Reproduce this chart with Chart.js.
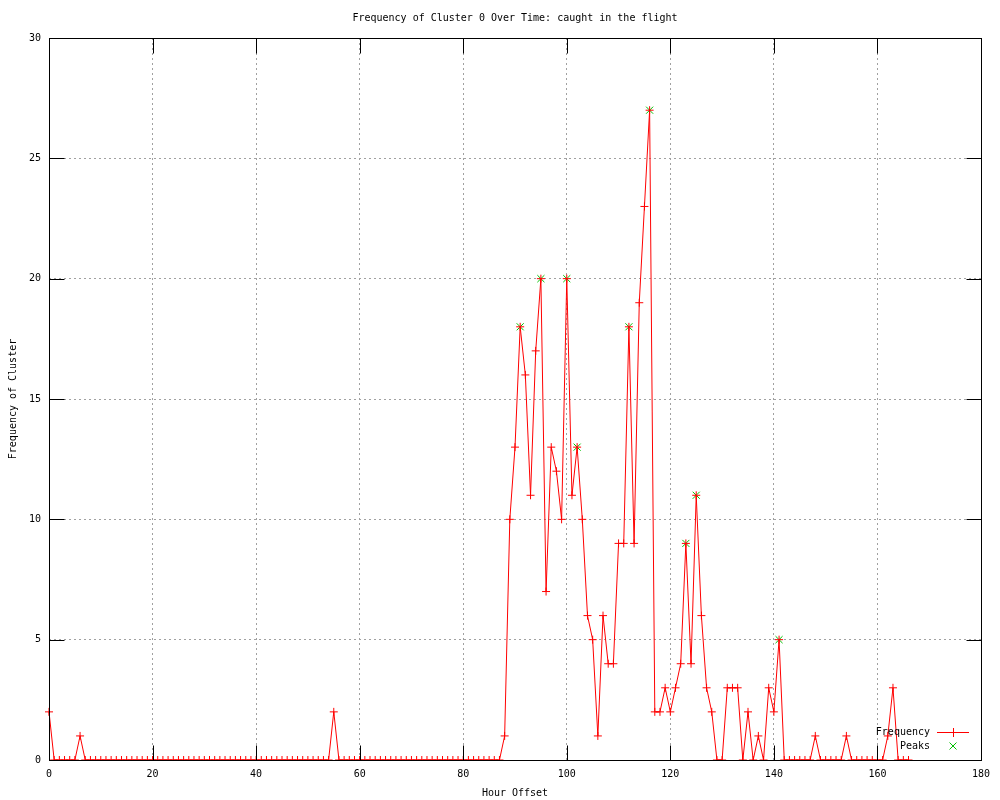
<!DOCTYPE html>
<html>
<head>
<meta charset="utf-8">
<title>Frequency of Cluster 0 Over Time</title>
<script src="https://cdn.jsdelivr.net/npm/chart.js@4.4.0/dist/chart.umd.min.js"></script>
<style>
  html, body { margin: 0; padding: 0; background: #fff; }
</style>
</head>
<body>
<canvas id="clusterChart" width="1000" height="800"></canvas>
<script>
// cluster counts per hour offset, hour 0 .. 166
const frequency = [
  2, 0, 0, 0, 0, 0, 1, 0, 0, 0,
  0, 0, 0, 0, 0, 0, 0, 0, 0, 0,
  0, 0, 0, 0, 0, 0, 0, 0, 0, 0,
  0, 0, 0, 0, 0, 0, 0, 0, 0, 0,
  0, 0, 0, 0, 0, 0, 0, 0, 0, 0,
  0, 0, 0, 0, 0, 2, 0, 0, 0, 0,
  0, 0, 0, 0, 0, 0, 0, 0, 0, 0,
  0, 0, 0, 0, 0, 0, 0, 0, 0, 0,
  0, 0, 0, 0, 0, 0, 0, 0, 1, 10,
  13, 18, 16, 11, 17, 20, 7, 13, 12, 10,
  20, 11, 13, 10, 6, 5, 1, 6, 4, 4,
  9, 9, 18, 9, 19, 23, 27, 2, 2, 3,
  2, 3, 4, 9, 4, 11, 6, 3, 2, 0,
  0, 3, 3, 3, 0, 2, 0, 1, 0, 3,
  2, 5, 0, 0, 0, 0, 0, 0, 1, 0,
  0, 0, 0, 0, 1, 0, 0, 0, 0, 0,
  0, 0, 1, 3, 0, 0, 0
];
const hours = frequency.map((_, i) => i);

const peakHours = [91, 95, 100, 102, 112, 116, 123, 125, 141];
const peakValues = [18, 20, 20, 13, 18, 27, 9, 11, 5];

const xTicks = [0, 20, 40, 60, 80, 100, 120, 140, 160, 180];
const yTicks = [0, 5, 10, 15, 20, 25, 30];

const FONT = "'DejaVu Sans Mono', 'Liberation Mono', monospace";
const RED = '#ff0000';
const GREEN = '#00c000';

// gnuplot style frame: box, inward ticks on all four sides, key in the corner
const gnuplotFrame = {
  id: 'gnuplotFrame',
  afterDraw(chart) {
    const { ctx, chartArea: a, scales } = chart;
    const L = a.left + 0.5, R = a.right + 0.5, T = a.top + 0.5, B = a.bottom + 0.5;
    const tl = 15;
    ctx.save();
    ctx.strokeStyle = '#000';
    ctx.lineWidth = 1;
    ctx.strokeRect(L, T, R - L, B - T);
    ctx.beginPath();
    xTicks.forEach(v => {
      const px = Math.round(scales.x.getPixelForValue(v)) + 0.5;
      ctx.moveTo(px, B); ctx.lineTo(px, B - tl);
      ctx.moveTo(px, T); ctx.lineTo(px, T + tl);
    });
    yTicks.forEach(v => {
      const py = Math.round(scales.y.getPixelForValue(v)) + 0.5;
      ctx.moveTo(L, py); ctx.lineTo(L + tl, py);
      ctx.moveTo(R, py); ctx.lineTo(R - tl, py);
    });
    ctx.stroke();

    // key
    const textRight = a.right - 51;
    const row1 = a.bottom - 28, row2 = a.bottom - 14;
    const mx = a.right - 28;
    ctx.font = '10px ' + FONT;
    ctx.fillStyle = '#000';
    ctx.textAlign = 'right';
    ctx.textBaseline = 'middle';
    ctx.fillText('Frequency', textRight, row1);
    ctx.fillText('Peaks', textRight, row2);

    ctx.strokeStyle = RED;
    ctx.beginPath();
    ctx.moveTo(a.right - 44, row1 + 0.5); ctx.lineTo(a.right - 12, row1 + 0.5);
    ctx.moveTo(mx + 0.5, row1 - 4); ctx.lineTo(mx + 0.5, row1 + 5);
    ctx.stroke();

    ctx.strokeStyle = GREEN;
    ctx.beginPath();
    ctx.moveTo(mx - 3.5, row2 - 3.5); ctx.lineTo(mx + 3.5, row2 + 3.5);
    ctx.moveTo(mx - 3.5, row2 + 3.5); ctx.lineTo(mx + 3.5, row2 - 3.5);
    ctx.stroke();
    ctx.restore();
  }
};

const ctx = document.getElementById('clusterChart').getContext('2d');
new Chart(ctx, {
  type: 'line',
  data: {
    datasets: [
      {
        label: 'Frequency',
        data: hours.map((h, i) => ({ x: h, y: frequency[i] })),
        borderColor: RED,
        backgroundColor: RED,
        borderWidth: 1,
        pointStyle: 'cross',
        pointRadius: 4,
        pointBorderWidth: 1,
        pointBorderColor: RED,
        tension: 0,
        fill: false,
        clip: { left: 8, top: 8, right: 8, bottom: 0 },
        order: 1
      },
      {
        label: 'Peaks',
        data: peakHours.map((h, i) => ({ x: h, y: peakValues[i] })),
        showLine: false,
        borderColor: GREEN,
        backgroundColor: GREEN,
        pointStyle: 'crossRot',
        pointRadius: 5,
        pointBorderWidth: 1,
        pointBorderColor: GREEN,
        clip: 8,
        order: 2
      }
    ]
  },
  options: {
    responsive: false,
    animation: false,
    devicePixelRatio: 1,
    layout: { padding: { left: 0, right: 19, top: 0, bottom: 0 } },
    plugins: {
      legend: { display: false },
      tooltip: { enabled: false },
      title: {
        display: true,
        fullSize: false,
        text: 'Frequency of Cluster 0 Over Time: caught in the flight',
        color: '#000',
        font: { family: FONT, size: 10, weight: 'normal' },
        padding: { top: 12, bottom: 14 }
      }
    },
    scales: {
      x: {
        type: 'linear',
        min: 0,
        max: 180,
        afterBuildTicks: s => { s.ticks = xTicks.map(v => ({ value: v })); },
        afterFit: s => { s.height = 40; },
        grid: { color: '#a0a0a0', lineWidth: 1, drawTicks: false },
        border: { display: false, dash: [2, 3] },
        ticks: { color: '#000', padding: 8, maxRotation: 0, font: { family: FONT, size: 10 } },
        title: {
          display: true,
          text: 'Hour Offset',
          color: '#000',
          font: { family: FONT, size: 10 },
          padding: { top: 0, bottom: 1 }
        }
      },
      y: {
        min: 0,
        max: 30,
        afterBuildTicks: s => { s.ticks = yTicks.map(v => ({ value: v })); },
        afterFit: s => { s.width = 49; },
        grid: { color: '#a0a0a0', lineWidth: 1, drawTicks: false },
        border: { display: false, dash: [2, 3] },
        ticks: { color: '#000', padding: 8, font: { family: FONT, size: 10 } },
        title: {
          display: true,
          text: 'Frequency of Cluster',
          color: '#000',
          font: { family: FONT, size: 10 },
          padding: { top: 7, bottom: 0 }
        }
      }
    }
  },
  plugins: [gnuplotFrame]
});
</script>
</body>
</html>
